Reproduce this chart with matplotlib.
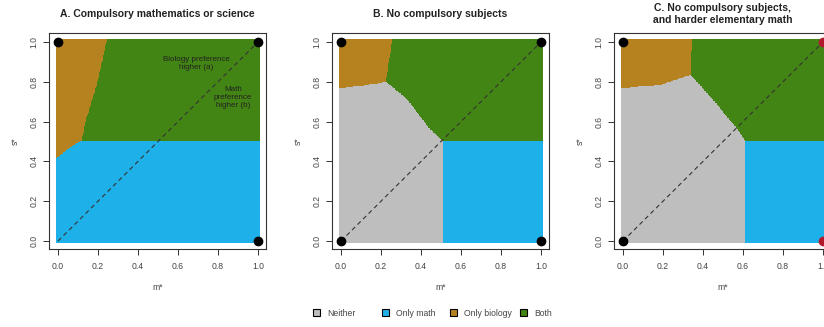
import numpy as np
import matplotlib
matplotlib.use("Agg")
import matplotlib.pyplot as plt
from matplotlib.colors import ListedColormap
from matplotlib.patches import Patch

plt.rcParams['font.family'] = ['Liberation Sans', 'DejaVu Sans']

# Outcome categories and their colours
categories = ["Neither", "Only math", "Only biology", "Both"]
colors = ["#BEBEBE", "#1EB0E8", "#B5821F", "#438514"]

titles = ["A. Compulsory mathematics or science",
          "B. No compulsory subjects",
          "C. No compulsory subjects,\nand harder elementary math"]

# Panel A: right edge of the "only biology" region (m as a function of s)
a_bio_edge_s = [0.415, 0.455, 0.49, 0.50, 0.60, 0.80, 1.00]
a_bio_edge_m = [0.00, 0.05, 0.10, 0.125, 0.145, 0.205, 0.25]

# Panel B: floor of "only biology" region (s as a function of m)
b_bio_floor_m = [0.00, 0.10, 0.23, 0.26]
b_bio_floor_s = [0.76, 0.77, 0.79, 0.79]
# Panel B: right edge of "only biology" (m as a function of s)
b_bio_edge_s = [0.79, 1.00]
b_bio_edge_m = [0.23, 0.26]
# Panel B: right edge of "neither" (m as a function of s)
b_none_edge_s = [0.00, 0.50, 0.565, 0.71, 0.79]
b_none_edge_m = [0.51, 0.51, 0.44, 0.33, 0.23]

# Panel C
c_bio_floor_m = [0.00, 0.195, 0.34, 0.35]
c_bio_floor_s = [0.76, 0.776, 0.826, 0.826]
c_bio_edge_s = [0.826, 1.00]
c_bio_edge_m = [0.34, 0.35]
c_none_edge_s = [0.00, 0.50, 0.56, 0.71, 0.826]
c_none_edge_m = [0.61, 0.61, 0.57, 0.445, 0.34]

math_threshold = 0.5

# Equilibrium points marked on each panel: (m, s, colour)
points_a = [(0, 1, "black"), (1, 1, "black"), (1, 0, "black")]
points_b = [(0, 1, "black"), (1, 1, "black"), (0, 0, "black"), (1, 0, "black")]
points_c = [(0, 1, "black"), (1, 1, "#B2182B"), (0, 0, "black"), (1, 0, "#B2182B")]

n = 301
grid = np.linspace(0, 1, n)
M, S = np.meshgrid(grid, grid)


def classify_a():
    z = np.full(M.shape, 3)
    z[S < math_threshold] = 1
    edge = np.interp(S, a_bio_edge_s, a_bio_edge_m, left=-1)
    z[(M < edge) & (S >= a_bio_edge_s[0])] = 2
    return z


def classify(floor_m, floor_s, bio_m_s, bio_m_m, none_s, none_m):
    z = np.full(M.shape, 3)
    z[S < math_threshold] = 1
    floor = np.interp(M, floor_m, floor_s, right=2)
    bio_edge = np.interp(S, bio_m_s, bio_m_m)
    none_edge = np.interp(S, none_s, none_m, right=-1)
    z[(S >= floor) & (M < bio_edge)] = 2
    z[(S < floor) & (M < none_edge)] = 0
    return z


zs = [classify_a(),
      classify(b_bio_floor_m, b_bio_floor_s, b_bio_edge_s, b_bio_edge_m,
               b_none_edge_s, b_none_edge_m),
      classify(c_bio_floor_m, c_bio_floor_s, c_bio_edge_s, c_bio_edge_m,
               c_none_edge_s, c_none_edge_m)]
pts = [points_a, points_b, points_c]

W, H = 824, 327
fig = plt.figure(figsize=(W / 100, H / 100), dpi=100)
lefts = [49, 332, 614]
cmap = ListedColormap(colors)
tick_color = "#444444"

for i, left in enumerate(lefts):
    ax = fig.add_axes([left / W, 1 - 249 / H, 217 / W, 216 / H])
    ax.imshow(zs[i], origin="lower", extent=(-0.01, 1.01, -0.01, 1.01),
              cmap=cmap, vmin=-0.5, vmax=3.5, interpolation="nearest",
              aspect="auto")
    ax.set_xlim(-0.045, 1.04)
    ax.set_ylim(-0.04, 1.045)
    ax.plot([0, 1], [0, 1], ls=(0, (4, 3)), color="#333333", lw=0.8)
    for (m, s, c) in pts[i]:
        ax.plot(m, s, "o", color=c, ms=6, clip_on=False, zorder=5)
    ticks = [0, 0.2, 0.4, 0.6, 0.8, 1.0]
    ax.set_xticks(ticks)
    ax.set_yticks(ticks)
    ax.set_xticklabels([f"{t:.1f}" for t in ticks])
    ax.set_yticklabels([f"{t:.1f}" for t in ticks], rotation=90, va="center")
    ax.tick_params(length=4, width=0.7, colors="#333333", labelcolor=tick_color,
                   labelsize=6.2)
    ax.tick_params(axis="x", pad=5.5)
    ax.tick_params(axis="y", pad=3.5)
    for sp in ax.spines.values():
        sp.set_linewidth(0.8)
        sp.set_color("#333333")
    ax.text(0.5, -39 / 216, "m*", transform=ax.transAxes, ha="center",
            va="center", fontsize=6.2, color=tick_color)
    ax.text(-34 / 217, 0.5, "s*", transform=ax.transAxes, ha="center",
            va="center", fontsize=6.2, color=tick_color, rotation=90)
    ax.text(0.5, 1 + (33 - 14) / 216, titles[i], transform=ax.transAxes,
            ha="center", va="center", fontsize=7.5, fontweight="bold",
            color="#222222", linespacing=1.3)
    if i == 0:
        ax.text(0.69, 0.89, "Biology preference\nhigher (a)", ha="center",
                va="center", fontsize=5.8, color="#222222")
        ax.text(0.875, 0.72, "Math\npreference\nhigher (b)", ha="center",
                va="center", fontsize=5.8, color="#222222")

# Legend entries laid out in equal-width columns
legend_x = [313, 382, 450, 520]
for x, lab, c in zip(legend_x, categories, colors):
    fig.legend(handles=[Patch(facecolor=c, edgecolor="black", linewidth=0.8)],
               labels=[lab], loc="center left",
               bbox_to_anchor=(x / W, 1 - 313 / H), frameon=False,
               fontsize=6.2, handlelength=0.8, handleheight=0.8,
               handletextpad=0.8, borderpad=0, borderaxespad=0,
               labelcolor=tick_color)

fig.savefig("out.png", dpi=100)
